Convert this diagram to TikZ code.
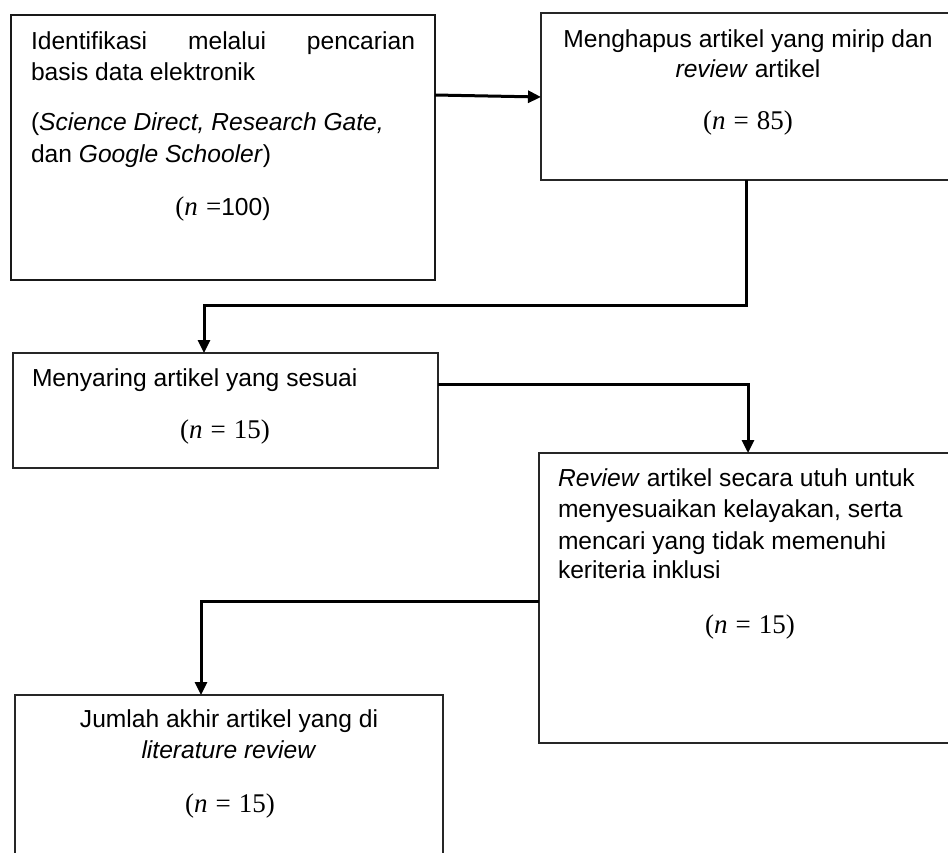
\documentclass[tikz,border=0pt]{standalone}
\usepackage{fontspec}
\setmainfont{Liberation Sans}
\newfontfamily\serifm{Liberation Serif}
\newcommand{\nval}[1]{{\serifm\fontsize{27pt}{31pt}\selectfont(\textit{n}\hspace{0.3em}=\hspace{0.3em}#1)}}
\usetikzlibrary{arrows.meta,calc}
\tikzset{
  box/.style={draw=black!85, line width=1.2pt, rectangle, anchor=north west, inner sep=0pt, outer sep=0pt},
  thickbox/.style={box, draw=black!90, line width=2.2pt},
  txt/.style={inner sep=0pt, outer sep=0pt, font=\fontsize{24.6pt}{31pt}\selectfont},
  conn/.style={line width=3pt, -{Triangle[length=13pt,width=12pt]}}
}
\begin{document}
\begin{tikzpicture}[x=1pt,y=-1pt]
\useasboundingbox (0,0) rectangle (948,852);
% boxes
\node[thickbox, minimum width=424pt, minimum height=265pt] (b1) at (11,15) {};
\node[box, minimum width=414pt, minimum height=167pt] (b2) at (541,13) {};
\node[box, minimum width=425pt, minimum height=115pt] (b3) at (13,353) {};
\node[box, minimum width=422pt, minimum height=290pt] (b4) at (539,453) {};
\node[box, minimum width=428pt, minimum height=180pt] (b5) at (15,695) {};
% box 1 text
\node[txt, anchor=base west] (t1a) at (31,49) {\hbox to 384pt{Identifikasi\hfill melalui\hfill pencarian}};
\node[txt, anchor=base west] (t1b) at (31,80) {basis data elektronik};
\node[txt, anchor=base west] (t1c) at (31,130) {(\textit{Science Direct, Research Gate,}};
\node[txt, anchor=base west] (t1d) at (31,162) {dan \textit{Google Schooler})};
\node[txt, anchor=base] (t1e) at (223,215) {{\serifm\fontsize{27pt}{31pt}\selectfont(\textit{n}\hspace{0.3em}=}100)};
% box 2 text
\node[txt, anchor=base] (t2a) at (748,47) {Menghapus artikel yang mirip dan};
\node[txt, anchor=base] (t2b) at (748,77) {\textit{review} artikel};
\node[txt, anchor=base] (t2c) at (748,129) {\nval{85}};
% box 3 text
\node[txt, anchor=base west] (t3a) at (32,386) {Menyaring artikel yang sesuai};
\node[txt, anchor=base] (t3b) at (225,438) {\nval{15}};
% box 4 text
\node[txt, anchor=base west] (t4a) at (558,486) {\textit{Review} artikel secara utuh untuk};
\node[txt, anchor=base west] (t4b) at (558,517) {menyesuaikan kelayakan, serta};
\node[txt, anchor=base west] (t4c) at (558,549) {mencari yang tidak memenuhi};
\node[txt, anchor=base west] (t4d) at (558,578) {keriteria inklusi};
\node[txt, anchor=base] (t4e) at (750,633) {\nval{15}};
% box 5 text
\node[txt, anchor=base] (t5a) at (229,727) {Jumlah akhir artikel yang di};
\node[txt, anchor=base] (t5b) at (229,758) {\textit{literature review}};
\node[txt, anchor=base] (t5c) at (230,812) {\nval{15}};
% connectors
\coordinate (k1a) at (435,95);
\coordinate (k1b) at (541,97);
\draw[conn] (b1.east |- k1a) -- (b2.west |- k1b);
\coordinate (k2a) at (746,305);
\coordinate (k2b) at (204,305);
\draw[conn] (b2.south -| k2a) -- (k2a) -- (k2b) -- (k2b |- b3.north);
\coordinate (k3) at (748,384);
\draw[conn] (b3.east |- k3) -- (k3) -- (k3 |- b4.north);
\coordinate (k4) at (201,601);
\draw[conn] (b4.west |- k4) -- (k4) -- (k4 |- b5.north);
\end{tikzpicture}
\end{document}
